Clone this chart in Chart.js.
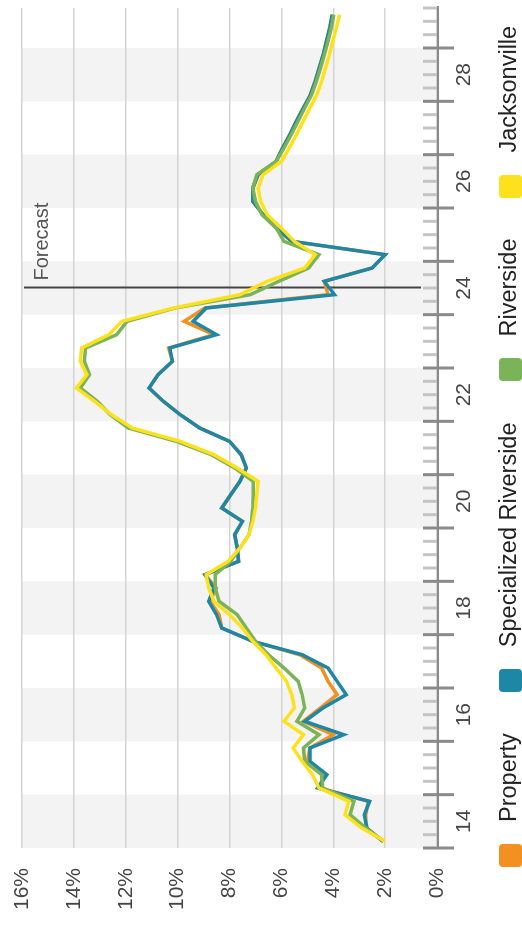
<!DOCTYPE html>
<html>
<head>
<meta charset="utf-8">
<script src="https://cdn.jsdelivr.net/npm/chart.js@4.4.1/dist/chart.umd.min.js"></script>
<style>
  html, body { margin: 0; padding: 0; background: #fff; }
  body { width: 522px; height: 934px; overflow: hidden; position: relative; }
  /* chart is laid out landscape, then turned a quarter turn */
  #wrap {
    position: absolute; left: 0; top: 0;
    width: 934px; height: 522px; overflow: hidden;
    transform-origin: 0 0;
    transform: translate(0, 934px) rotate(-90deg);
    font-family: "Liberation Sans", Arial, sans-serif;
  }
  #chart { position: absolute; left: 0; top: 0; }
  #legend {
    position: absolute; left: 67px; top: 497px;
    display: flex; align-items: flex-start;
    font-size: 23.5px; line-height: 23.5px; color: #222; white-space: nowrap;
  }
  #legend .item { display: flex; align-items: flex-start; margin-right: 41px; }
  #legend .box { width: 23px; height: 23px; border-radius: 4px; margin-top: 2px; margin-right: 22px; }
</style>
</head>
<body>
<div id="wrap">
  <canvas id="chart" width="934" height="522"></canvas>
  <div id="legend"></div>
</div>
<script>
// quarterly periods
const periods = [
  '2014Q1','2014Q2','2014Q3','2014Q4','2015Q1','2015Q2','2015Q3','2015Q4',
  '2016Q1','2016Q2','2016Q3','2016Q4','2017Q1','2017Q2','2017Q3','2017Q4',
  '2018Q1','2018Q2','2018Q3','2018Q4','2019Q1','2019Q2','2019Q3','2019Q4',
  '2020Q1','2020Q2','2020Q3','2020Q4','2021Q1','2021Q2','2021Q3','2021Q4',
  '2022Q1','2022Q2','2022Q3','2022Q4','2023Q1','2023Q2','2023Q3','2023Q4',
  '2024Q1','2024Q2','2024Q3','2024Q4','2025Q1','2025Q2','2025Q3','2025Q4',
  '2026Q1','2026Q2','2026Q3','2026Q4','2027Q1','2027Q2','2027Q3','2027Q4',
  '2028Q1','2028Q2','2028Q3','2028Q4','2029Q1','2029Q2','2029Q3'
];

const seriesNames = ['Property', 'Specialized Riverside', 'Riverside', 'Jacksonville'];
const seriesColors = ['#f29020', '#1f87a6', '#7bb458', '#fde11c'];

const property = [
  2.05, 2.75, 2.75, 2.65, 4.5, 4.4, 5.0, 4.9, 4.0, 5.15, 4.5, 3.85, 4.2, 4.45, 5.3, 7.1,
  8.3, 8.4, 8.75, 8.5, 8.95, 7.65, 7.7, 7.8, 7.5, 8.3, 7.95, 7.6, 7.35, 7.55, 8.0, 9.15,
  9.9, 10.55, 11.1, 10.75, 10.2, 10.35, 8.6, 9.75, 8.95, 4.2, 4.35, 2.5, 2.0, 5.6, 6.2, 6.7,
  7.1, 7.1, 6.9, 6.2, 5.95, 5.68, 5.42, 5.15, 4.88, 4.7, 4.54, 4.39, 4.26, 4.14, 4.04
];
const specRiverside = [
  2.1, 2.7, 2.8, 2.6, 4.6, 4.25, 4.9, 4.9, 3.6, 5.1, 4.4, 3.5, 3.85, 4.2, 5.2, 7.1,
  8.3, 8.5, 8.8, 8.6, 8.95, 7.65, 7.7, 7.8, 7.5, 8.3, 7.95, 7.6, 7.35, 7.55, 8.0, 9.15,
  9.9, 10.55, 11.1, 10.75, 10.2, 10.3, 8.5, 9.4, 8.9, 3.95, 4.35, 2.5, 2.0, 5.6, 6.2, 6.7,
  7.1, 7.1, 6.9, 6.2, 5.95, 5.68, 5.42, 5.15, 4.88, 4.7, 4.54, 4.39, 4.26, 4.14, 4.04
];
const riverside = [
  2.05, 2.75, 3.35, 3.2, 4.4, 4.45, 5.1, 5.15, 4.55, 5.4, 5.1, 5.2, 5.35, 5.9, 6.5, 7.0,
  7.35, 7.7, 8.4, 8.55, 8.55, 7.95, 7.6, 7.25, 7.15, 7.1, 7.08, 7.08, 7.8, 8.7, 10.05, 11.9,
  12.6, 13.1, 13.75, 13.4, 13.6, 13.55, 12.35, 11.95, 10.1, 7.2, 6.1, 4.95, 4.55, 5.9, 6.2, 6.75,
  7.0, 7.1, 6.95, 6.2, 5.9, 5.62, 5.36, 5.1, 4.83, 4.65, 4.49, 4.34, 4.2, 4.08, 3.98
];
const jacksonville = [
  2.0, 2.9, 3.55, 3.4, 4.55, 4.8, 5.2, 5.55, 5.15, 5.9, 5.5, 5.6, 5.8, 6.2, 6.6, 7.1,
  7.5, 8.0, 8.6, 8.8, 8.9, 8.05, 7.6, 7.25, 7.1, 7.0, 6.95, 6.9, 7.7, 8.6, 9.9, 11.75,
  12.55, 13.2, 13.9, 13.5, 13.75, 13.7, 12.65, 12.15, 10.15, 7.6, 6.55, 5.1, 4.7, 5.5, 6.0, 6.55,
  6.8, 6.9, 6.7, 6.0, 5.7, 5.42, 5.16, 4.9, 4.63, 4.45, 4.3, 4.15, 4.02, 3.88, 3.76
];

const yearLabels = ['14', '16', '18', '20', '22', '24', '26', '28'];
const valueTicks = [0, 2, 4, 6, 8, 10, 12, 14, 16];
const forecastAt = 2024.5;
const forecastText = 'Forecast';

const FONT = '"Liberation Sans", Arial, sans-serif';

// period '2014Q3' -> middle of that quarter on a year scale
function periodPos(p) {
  const y = Number(p.slice(0, 4)), q = Number(p.slice(5));
  return y + (q - 0.5) / 4;
}
const xs = periods.map(periodPos);
const firstYear = Math.floor(xs[0]);
const lastYear = Math.floor(xs[xs.length - 1]);

function series(vals) { return vals.map((v, i) => ({ x: xs[i], y: v })); }
const allSeries = [property, specRiverside, riverside, jacksonville];

// year bands, axis ticks and forecast marker
const decor = {
  id: 'decor',
  beforeDraw(chart) {
    const { ctx, chartArea: a, scales: { x } } = chart;
    ctx.save();
    ctx.fillStyle = '#f3f3f3';
    for (let yr = firstYear; yr <= lastYear; yr += 2) {
      const x0 = x.getPixelForValue(yr), x1 = x.getPixelForValue(yr + 1);
      ctx.fillRect(x0, a.top, x1 - x0, a.bottom - a.top + 2);
    }
    ctx.restore();
  },
  beforeDatasetsDraw(chart) {
    const { ctx, chartArea: a, scales: { x } } = chart;
    const fx = Math.round(x.getPixelForValue(forecastAt)) + 0.5;
    ctx.save();
    ctx.strokeStyle = '#444';
    ctx.lineWidth = 2;
    ctx.beginPath();
    ctx.moveTo(fx, a.top + 2);
    ctx.lineTo(fx, a.bottom - 16);
    ctx.stroke();
    ctx.fillStyle = '#555';
    ctx.font = '20px ' + FONT;
    ctx.textBaseline = 'alphabetic';
    ctx.fillText(forecastText, fx + 7, a.top + 26);
    ctx.restore();
  },
  afterDraw(chart) {
    const { ctx, chartArea: a, scales: { x } } = chart;
    const base = a.bottom + 1;
    ctx.save();
    ctx.lineWidth = 3;
    // quarter ticks
    ctx.strokeStyle = '#c4c4c4';
    for (let yr = firstYear; yr <= lastYear; yr++) {
      for (let q = 1; q < 4; q++) {
        const px = x.getPixelForValue(yr + q / 4);
        if (px > a.right) continue;
        ctx.beginPath();
        ctx.moveTo(px, base - 15);
        ctx.lineTo(px, base);
        ctx.stroke();
      }
    }
    // year ticks
    ctx.strokeStyle = '#8a8a8a';
    for (let yr = firstYear; yr <= lastYear; yr++) {
      const px = x.getPixelForValue(yr);
      ctx.beginPath();
      ctx.moveTo(px, base - 15);
      ctx.lineTo(px, base + 16);
      ctx.stroke();
    }
    // axis line
    ctx.lineWidth = 2;
    ctx.beginPath();
    ctx.moveTo(a.left, base);
    ctx.lineTo(a.right + 2, base);
    ctx.stroke();
    ctx.restore();
  }
};

const ctx = document.getElementById('chart').getContext('2d');
new Chart(ctx, {
  type: 'line',
  data: {
    datasets: seriesNames.map((name, i) => ({
      label: name,
      data: series(allSeries[i]),
      borderColor: seriesColors[i],
      backgroundColor: seriesColors[i],
      borderWidth: 3.5,
      pointRadius: 0,
      tension: 0,
      fill: false,
      order: seriesNames.length - i   // later series drawn on top
    }))
  },
  options: {
    responsive: false,
    animation: false,
    layout: { padding: { top: 22, right: 8, left: 0, bottom: 0 } },
    plugins: { legend: { display: false }, tooltip: { enabled: false } },
    scales: {
      x: {
        type: 'linear',
        min: firstYear,
        max: lastYear + 0.75,
        grid: { display: false },
        border: { display: false },
        afterBuildTicks: (s) => { s.ticks = yearLabels.map(l => ({ value: 2000 + Number(l) + 0.5 })); },
        afterFit: (s) => { s.height = 85; },
        ticks: {
          autoSkip: false, maxRotation: 0, padding: 7,
          color: '#444', font: { size: 21, family: FONT },
          callback: (v) => String(Math.floor(v)).slice(2)
        }
      },
      y: {
        min: valueTicks[0],
        max: valueTicks[valueTicks.length - 1],
        afterBuildTicks: (s) => { s.ticks = valueTicks.map(v => ({ value: v })); },
        afterFit: (s) => { s.width = 86; s.paddingTop = 0; s.paddingBottom = 0; },
        grid: { color: '#d4d4d4', lineWidth: 1.5, drawTicks: false },
        border: { display: false },
        ticks: {
          padding: 20, color: '#444', font: { size: 21, family: FONT },
          callback: (v) => v + '%'
        }
      }
    }
  },
  plugins: [decor]
});

// legend
const legend = document.getElementById('legend');
seriesNames.forEach((name, i) => {
  const item = document.createElement('div');
  item.className = 'item';
  const box = document.createElement('div');
  box.className = 'box';
  box.style.background = seriesColors[i];
  const txt = document.createElement('span');
  txt.textContent = name;
  item.appendChild(box);
  item.appendChild(txt);
  legend.appendChild(item);
});
</script>
</body>
</html>
